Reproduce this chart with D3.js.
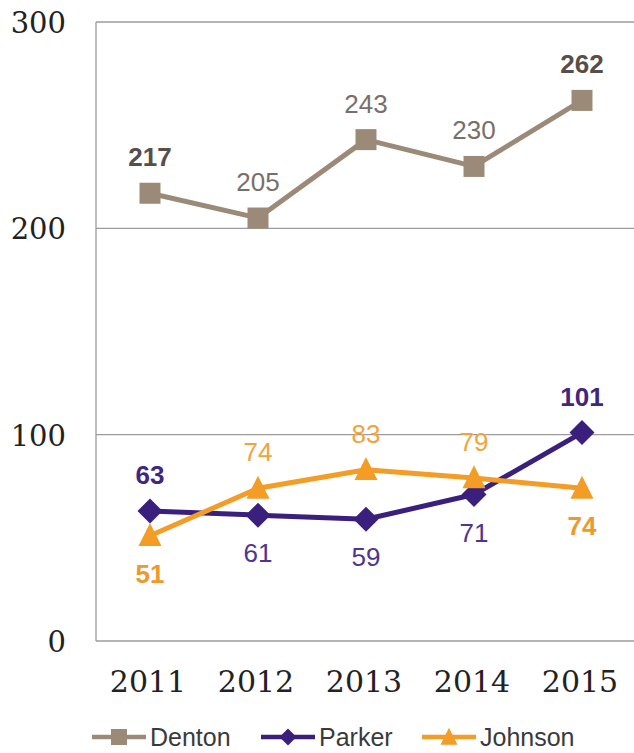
<!DOCTYPE html>
<html>
<head>
<meta charset="utf-8">
<script src="https://cdn.jsdelivr.net/npm/d3@7/dist/d3.min.js"></script>
<style>
  html, body { margin: 0; padding: 0; background: #ffffff; }
  svg { display: block; }
</style>
</head>
<body>
<svg id="chart" width="634" height="753"></svg>
<script>
// ---- data ----
const years = ["2011", "2012", "2013", "2014", "2015"];
const denton = [217, 205, 243, 230, 262];
const parker = [63, 61, 59, 71, 101];
const johnson = [51, 74, 83, 79, 74];
const yTickValues = [0, 100, 200, 300];
const seriesNames = ["Denton", "Parker", "Johnson"];

// ---- styling / layout ----
const W = 634, H = 753;
const plot = { left: 96, right: 636, top: 22, bottom: 641 };
const styles = {
  Denton:  { color: "#9c8a79", label: "#7a6f68", labelBold: "#584e49", marker: "square",   below: [false, false, false, false, false] },
  Parker:  { color: "#3b1f7c", label: "#4d3590", labelBold: "#3f2680", marker: "diamond",  below: [false, true, true, true, false] },
  Johnson: { color: "#f39c26", label: "#f2a43c", labelBold: "#ec9a2c", marker: "triangle", below: [true, false, false, false, true] }
};
const seriesValues = { Denton: denton, Parker: parker, Johnson: johnson };

const svg = d3.select("#chart");

const x = d3.scaleBand().domain(years).range([plot.left, plot.right]).padding(0);
const y = d3.scaleLinear().domain([0, 300]).range([plot.bottom, plot.top]);
const cx = d => x(d) + x.bandwidth() / 2;

// gridlines
svg.append("g")
  .selectAll("line")
  .data(yTickValues.filter(v => v > 0))
  .join("line")
  .attr("x1", plot.left).attr("x2", W)
  .attr("y1", d => y(d)).attr("y2", d => y(d))
  .attr("stroke", "#9c9a9c").attr("stroke-width", 1.3);

// axes lines
svg.append("line")
  .attr("x1", plot.left).attr("x2", plot.left)
  .attr("y1", plot.top).attr("y2", plot.bottom)
  .attr("stroke", "#9c9a9c").attr("stroke-width", 1.3);
svg.append("line")
  .attr("x1", plot.left).attr("x2", W)
  .attr("y1", plot.bottom).attr("y2", plot.bottom)
  .attr("stroke", "#9c9a9c").attr("stroke-width", 1.6);

// y axis labels
const yAxis = d3.axisLeft(y).tickValues(yTickValues).tickSize(0).tickPadding(30);
const gy = svg.append("g").attr("transform", `translate(${plot.left},0)`).call(yAxis);
gy.select(".domain").remove();
gy.selectAll("text")
  .attr("font-family", "'DejaVu Serif', serif")
  .attr("font-size", 29)
  .attr("fill", "#222")
  .attr("dy", "0.36em");

// x axis labels
const xAxis = d3.axisBottom(x).tickSize(0).tickPadding(0);
const gx = svg.append("g").attr("transform", `translate(0,${plot.bottom})`).call(xAxis);
gx.select(".domain").remove();
gx.selectAll("text")
  .attr("font-family", "'DejaVu Serif', serif")
  .attr("font-size", 30)
  .attr("fill", "#222")
  .attr("y", 0)
  .attr("dy", 51)
  .attr("dx", -2);

// marker symbol generators
function markerPath(type, s) {
  if (type === "square") return `M${-s/2},${-s/2}h${s}v${s}h${-s}Z`;
  if (type === "diamond") return `M0,${-s/2}L${s/2},0L0,${s/2}L${-s/2},0Z`;
  if (type === "triangle") return `M0,${-s*0.55}L${s/2},${s*0.45}L${-s/2},${s*0.45}Z`;
}
const markerSize = { square: 21, diamond: 25, triangle: 23 };

const line = d3.line().x((d, i) => cx(years[i])).y(d => y(d));

seriesNames.forEach(name => {
  const vals = seriesValues[name];
  const st = styles[name];
  const g = svg.append("g");
  g.append("path")
    .datum(vals)
    .attr("d", line)
    .attr("fill", "none")
    .attr("stroke", st.color)
    .attr("stroke-width", 5)
    .attr("stroke-linejoin", "round");
  g.selectAll("path.m")
    .data(vals)
    .join("path")
    .attr("class", "m")
    .attr("transform", (d, i) => `translate(${cx(years[i])},${y(d)})`)
    .attr("d", markerPath(st.marker, markerSize[st.marker]))
    .attr("fill", st.color);
});

// data labels
seriesNames.forEach(name => {
  const vals = seriesValues[name];
  const st = styles[name];
  svg.append("g")
    .selectAll("text")
    .data(vals)
    .join("text")
    .attr("x", (d, i) => cx(years[i]))
    .attr("y", (d, i) => y(d) + (st.below[i] ? 47 : -27))
    .attr("text-anchor", "middle")
    .attr("font-family", "'Liberation Sans', Arial, sans-serif")
    .attr("font-size", 26)
    .attr("font-weight", (d, i) => (i === 0 || i === vals.length - 1) ? "bold" : "normal")
    .attr("fill", (d, i) => (i === 0 || i === vals.length - 1) ? st.labelBold : st.label)
    .text(d => d);
});

// legend
const legendItems = [
  { name: "Denton", x: 92 },
  { name: "Parker", x: 261 },
  { name: "Johnson", x: 422 }
];
const legendY = 737;
const lg = svg.append("g");
legendItems.forEach(it => {
  const st = styles[it.name];
  lg.append("line")
    .attr("x1", it.x).attr("x2", it.x + 54)
    .attr("y1", legendY).attr("y2", legendY)
    .attr("stroke", st.color).attr("stroke-width", 4.5);
  lg.append("path")
    .attr("transform", `translate(${it.x + 27},${legendY})`)
    .attr("d", markerPath(st.marker, st.marker === "square" ? 16 : 17))
    .attr("fill", st.color);
  lg.append("text")
    .attr("x", it.x + 58)
    .attr("y", legendY + 9)
    .attr("font-family", "'Liberation Sans', Arial, sans-serif")
    .attr("font-size", 25)
    .attr("fill", "#3a3a3a")
    .text(it.name);
});
</script>
</body>
</html>
